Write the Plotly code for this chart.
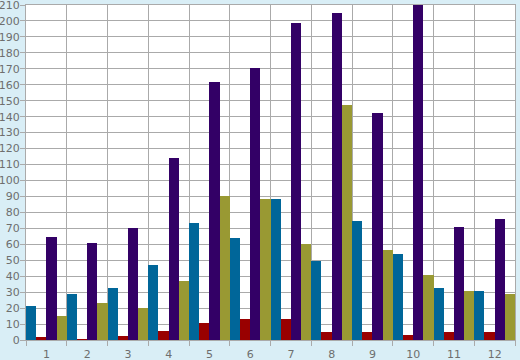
import plotly.graph_objects as go

categories = [str(i) for i in range(1, 13)]
teal = [21.3, 28.8, 32.6, 47, 73.4, 64, 88.4, 49.5, 74.6, 53.9, 32.6, 30.7]
dark_red = [1.9, 0.4, 2.5, 5.9, 10.7, 13.2, 13.2, 5, 5, 3.1, 5, 5]
purple = [64.6, 60.8, 70.2, 114.1, 161.7, 170.5, 198.7, 205, 142.3, 210, 70.8, 75.9]
olive = [15, 23.2, 20, 37, 90.3, 88.4, 60.2, 147.3, 56.4, 40.8, 30.7, 28.8]

series = [
    ("A", teal, "#006699"),
    ("B", dark_red, "#990000"),
    ("C", purple, "#330066"),
    ("D", olive, "#999933"),
]

fig = go.Figure()
for name, vals, col in series:
    fig.add_trace(go.Bar(x=categories, y=vals, name=name, marker=dict(color=col, line=dict(width=0))))

grid = "#AAAAAA"
fig.update_layout(
    width=520, height=360,
    margin=dict(l=26, r=5, t=5, b=20, autoexpand=False),
    paper_bgcolor="#D9EEF6",
    plot_bgcolor="#FFFFFF",
    barmode="group", bargap=0, bargroupgap=0,
    showlegend=False,
    font=dict(family="DejaVu Sans", size=11, color="#6E6E6E"),
)
fig.update_xaxes(
    type="category", tickson="boundaries", ticks="outside", ticklen=5, tickcolor=grid,
    showgrid=True, gridcolor=grid, gridwidth=1, ticklabelstandoff=4, automargin=False,
    showline=True, linecolor=grid, linewidth=1, mirror=True,
)
fig.update_yaxes(
    range=[0, 210], dtick=10, ticks="outside", ticklen=5, tickcolor=grid,
    showgrid=True, gridcolor=grid, gridwidth=1, ticklabelstandoff=-2,
    ticklabeloverflow="allow", automargin=False,
    showline=True, linecolor=grid, linewidth=1, mirror=True, zeroline=False,
)
fig.write_html("out.html")
